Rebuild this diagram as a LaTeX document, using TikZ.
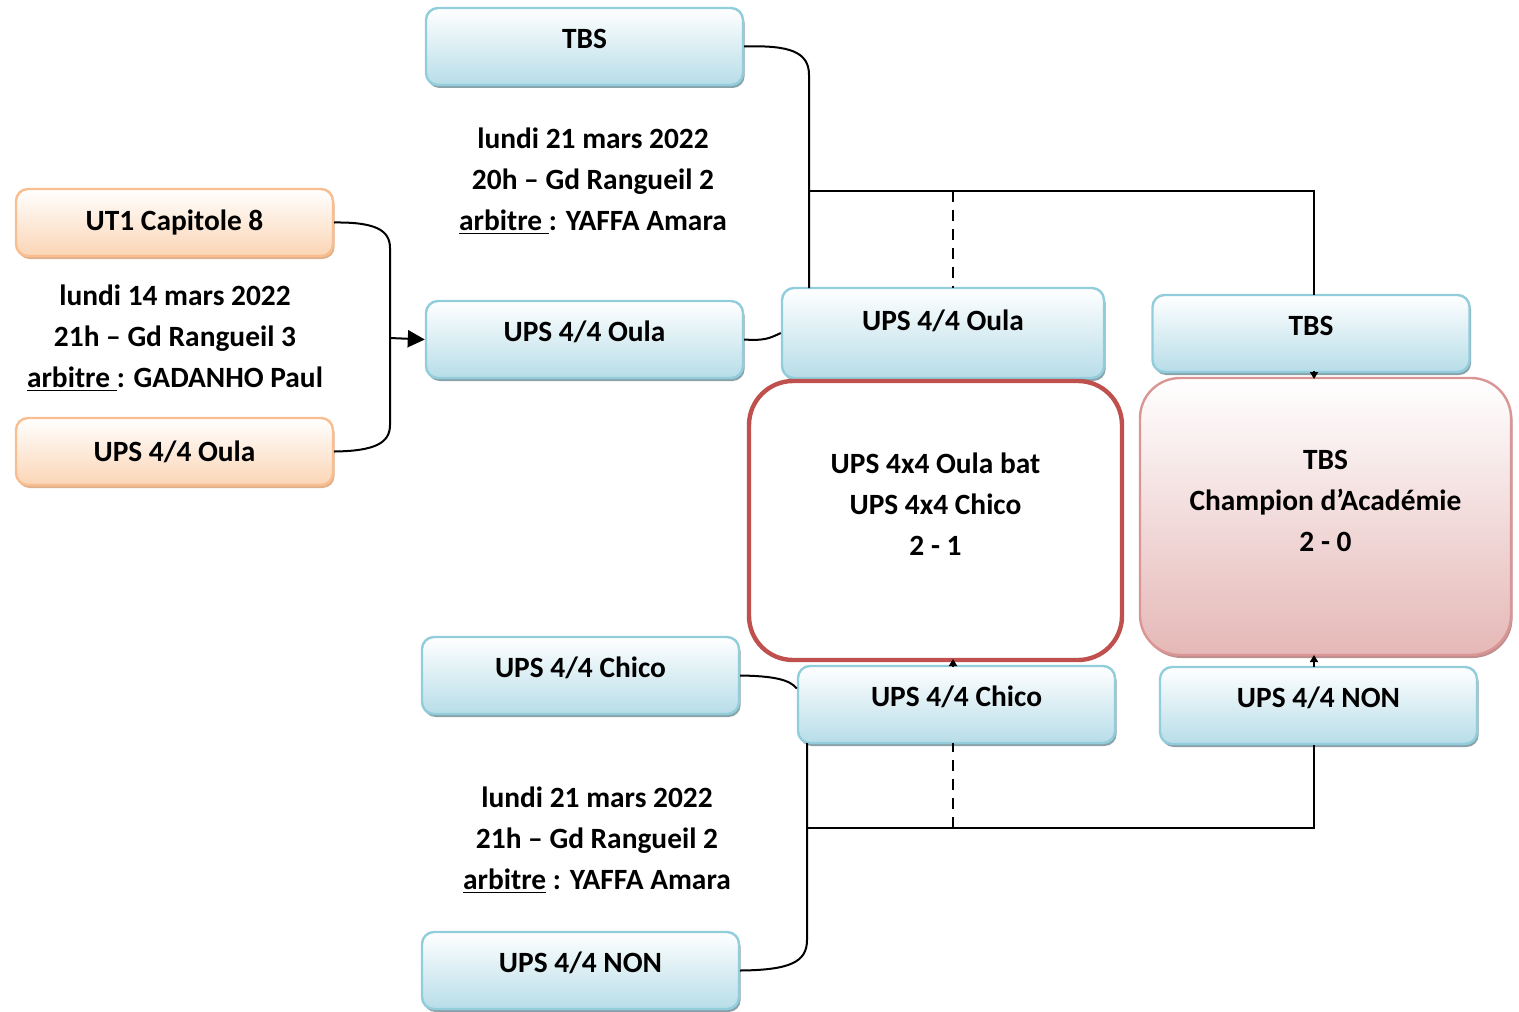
\documentclass[tikz,border=0pt]{standalone}
\usepackage{fontspec}
\setmainfont{Carlito}
\usetikzlibrary{positioning,shadows,arrows.meta}
\definecolor{teamblue}{HTML}{B7DDE8}
\definecolor{teamline}{HTML}{92CDDC}
\definecolor{teamshadow}{HTML}{8AA3AA}
\definecolor{qualorange}{HTML}{FBD5B5}
\definecolor{qualline}{HTML}{F9BE8F}
\definecolor{resultred}{HTML}{C0504D}
\definecolor{champpink}{HTML}{E5B8B7}
\definecolor{champline}{HTML}{D99694}
\tikzset{
  module/.style={rounded corners=6pt, align=center, font=\bfseries\fontsize{14.7}{20.5}\selectfont, line width=1.2pt},
  team module/.style={module, top color=white, bottom color=teamblue, draw=teamline, minimum width=158.5pt, minimum height=38.5pt, text depth=8pt, drop shadow={shadow xshift=0.8pt, shadow yshift=-1.5pt, fill=teamshadow, opacity=1}},
  qual module/.style={module, top color=white, bottom color=qualorange, draw=qualline, minimum width=158.5pt, minimum height=33.5pt, drop shadow={shadow xshift=0.8pt, shadow yshift=-1.5pt, fill=qualline!80!gray, opacity=1}},
  result module/.style={module, rounded corners=22pt, fill=white, draw=resultred, line width=2.2pt, minimum width=186.5pt, minimum height=139.5pt},
  champ module/.style={module, rounded corners=20pt, top color=white, bottom color=champpink, draw=champline, minimum width=185.5pt, minimum height=138.5pt, drop shadow={shadow xshift=0.8pt, shadow yshift=-1.5pt, fill=champline!70!gray, opacity=1}},
  match info/.style={align=center, font=\bfseries\fontsize{14.7}{20.5}\selectfont},
  bracket/.style={line width=1pt},
  bracket dashed/.style={line width=1pt, dash pattern=on 5.5pt off 4pt},
  small tip/.style={line width=1pt, -{Triangle[length=3.5pt,width=4pt]}},
}
\begin{document}
\begin{tikzpicture}[x=0.5pt,y=-0.5pt]
\useasboundingbox (0,0) rectangle (1519,1011);
%the nodes
\node [qual module] (mUT) at (174.5,222.5) {UT1 Capitole 8};
\node [qual module] (mOulaQ) at (174.5,451.5) {UPS 4/4 Oula};
\node [match info] (iA) at (175,338) {lundi 14 mars 2022\\21h -- Gd Rangueil 3\\\underline{arbitre\ }: GADANHO Paul};
\node [team module] (mTBS) at (584.5,46.5) {TBS};
\node [team module] (mOula) at (584.5,339.5) {UPS 4/4 Oula};
\node [team module] (mChico) at (580.5,675.5) {UPS 4/4 Chico};
\node [team module] (mNON) at (580.5,970.5) {UPS 4/4 NON};
\node [match info] (iB) at (593,181) {lundi 21 mars 2022\\20h -- Gd Rangueil 2\\\underline{arbitre\ }: YAFFA Amara};
\node [match info] (iC) at (597,840) {lundi 21 mars 2022\\21h -- Gd Rangueil 2\\\underline{arbitre} : YAFFA Amara};
\node [team module, minimum width=161pt, minimum height=45pt, text depth=13pt] (mOulaS) at (943,333) {UPS 4/4 Oula};
\node [team module] (mChicoS) at (956.5,704.5) {UPS 4/4 Chico};
\node [team module] (mTBSS) at (1311,333.5) {TBS};
\node [team module] (mNONS) at (1318.5,705.5) {UPS 4/4 NON};
\node [result module, text depth=16pt] (mRes) at (935.5,520.5) {UPS 4x4 Oula bat\\UPS 4x4 Chico\\2 - 1};
\node [champ module, text depth=15.5pt] (mChamp) at (1325.5,516.5) {TBS\\Champion d’Académie\\2 - 0};
\coordinate (jQ) at (390,338);
\coordinate (jTop) at (809,191);
\coordinate (jBot) at (807,828);
%drawings of vectors
\draw[bracket] (mUT.east) .. controls (375,222) and (390,230) .. (390,248) -- (390,425) .. controls (390,443) and (375,451) .. (mOulaQ.east);
\draw[line width=1pt,-{Triangle[length=8.5pt,width=8.5pt]}] (jQ) -- (mOula.west);
\draw[bracket] (mTBS.east) .. controls (790,45) and (809,52) .. (809,75) -- (809,288);
\draw[bracket] (mOula.east) .. controls (765,341) and (770,338) .. (mOulaS.west);
\draw[bracket] (jTop) -- (1314,191) -- (1314,295);
\draw[bracket dashed] (953,191) -- (953,288);
\draw[small tip] (1314,371) -- (1314,379);
\draw[bracket] (mChico.east) .. controls (775,676) and (790,680) .. ([yshift=8pt]mChicoS.west);
\draw[bracket] (mNON.east) .. controls (790,970) and (807,962) .. (807,940) -- (807,743);
\draw[bracket] (jBot) -- (1314,828) -- (1314,745);
\draw[bracket dashed] (953,828) -- (953,743);
\draw[small tip] (953,667) -- (953,659);
\draw[small tip] (1314,667) -- (1314,655);
\end{tikzpicture}
\end{document}
